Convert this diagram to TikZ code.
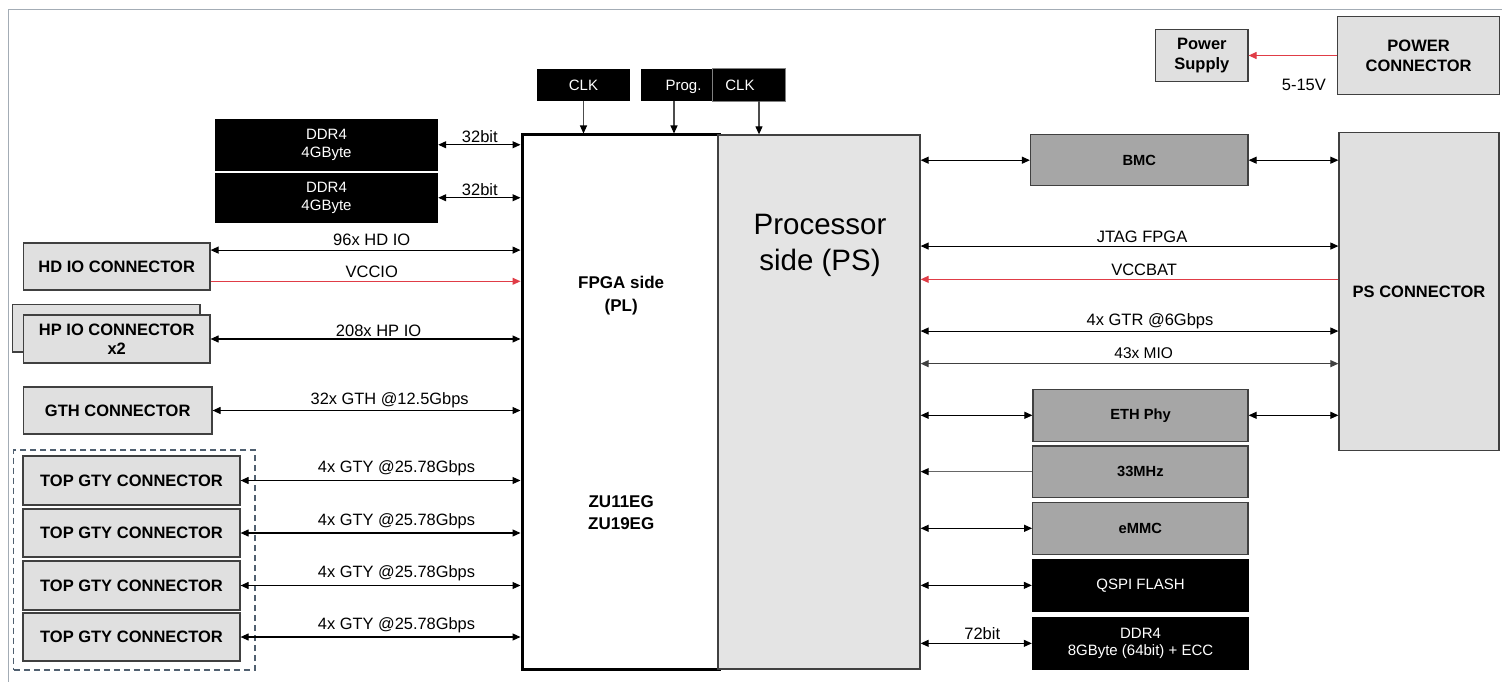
\documentclass[tikz,border=0pt]{standalone}
\usepackage{fontspec}
\setmainfont{Liberation Sans}
\usetikzlibrary{arrows.meta,calc}
\definecolor{boxgray}{HTML}{E0E0E0}
\definecolor{psgray}{HTML}{E4E4E4}
\definecolor{chipgray}{HTML}{A6A6A6}
\definecolor{edgec}{HTML}{404040}
\definecolor{framec}{HTML}{A3ACB5}
\definecolor{dashc}{HTML}{506070}
\definecolor{pwr}{HTML}{E03C46}
\begin{document}
\begin{tikzpicture}[x=1pt,y=-1pt,
 conn/.style={draw=edgec,fill=boxgray,line width=1.2pt,inner sep=0pt,align=center,font=\bfseries\fontsize{16.5}{19.5}\selectfont},
 chip/.style={draw=edgec,fill=chipgray,line width=1.2pt,inner sep=0pt,align=center,font=\bfseries\fontsize{14.7}{17}\selectfont},
 blk/.style={fill=black,text=white,inner sep=0pt,align=center,font=\fontsize{15}{17.5}\selectfont},
 lbl/.style={font=\fontsize{16.5}{19}\selectfont,anchor=base,inner sep=0pt},
 lbls/.style={font=\fontsize{16.4}{19}\selectfont,anchor=base,inner sep=0pt},
 bi/.style={line width=1.1pt,{Triangle[length=8pt,width=7pt]}-{Triangle[length=8pt,width=7pt]}},
 uni/.style={line width=1.1pt,-{Triangle[length=8pt,width=7pt]}},
 unik/.style={line width=1.1pt,-{Triangle[length=8pt,width=7pt,color=black]}},
]
\useasboundingbox (0,0) rectangle (1502,682);
\fill[white] (0,0) rectangle (1502,682);
\draw[framec,line width=1.5pt] (8.5,682) -- (8.5,9.5) -- (1502,9.5);

% central chip
\node[draw=black,fill=white,line width=3pt,minimum width=197pt,minimum height=534pt] (fpga) at (620.5,402) {};
\node[draw=edgec,fill=psgray,line width=1.3pt,minimum width=202pt,minimum height=534pt] (ps) at (819,402) {};
\node[anchor=north,inner sep=0pt,align=center,font=\bfseries\fontsize{17}{23}\selectfont] (fpgatxt) at (621.2,276) {FPGA side\\(PL)};
\node[anchor=north,inner sep=0pt,align=center,font=\bfseries\fontsize{17}{22}\selectfont] (zutxt) at (621.2,495) {ZU11EG\\ZU19EG};
\node[anchor=north,inner sep=0pt,align=center,font=\fontsize{29.5}{36.5}\selectfont] (pstxt) at (820,214) {Processor\\side (PS)};

% clocks
\node[blk,minimum width=93pt,minimum height=32pt] (clk1) at (583.5,85) {};
\node[blk,minimum width=71pt,minimum height=32pt] (progb) at (676.5,85) {};
\node[blk,draw=gray,line width=0.8pt,minimum width=73pt,minimum height=33pt] (clkb) at (748.5,84.5) {};
\node[anchor=base,inner sep=0pt,text=white,font=\fontsize{15}{17.5}\selectfont] (clk1txt) at (583.5,90.4) {CLK};
\node[anchor=base,inner sep=0pt,text=white,font=\fontsize{15}{17.5}\selectfont] (progtxt) at (683.5,90.4) {Prog.};
\node[anchor=base,inner sep=0pt,text=white,font=\fontsize{15}{17.5}\selectfont] (clk2txt) at (740,90.4) {CLK};
\coordinate (pa) at ([xshift=-2.5pt]progb.south);
\coordinate (ca) at ([xshift=10.5pt]clkb.south);
\draw[unik,draw=black!70] (clk1.south) -- (clk1.south |- fpga.north);
\draw[unik,draw=black!70] (pa) -- (pa |- fpga.north);
\draw[unik,draw=black!70] (ca) -- (ca |- ps.north);

% left side
\node[blk,minimum width=223pt,minimum height=51.5pt] (ddr1) at (326.5,144.75) {DDR4\\4GByte};
\node[blk,minimum width=223pt,minimum height=50.5pt] (ddr2) at (326.5,197.75) {DDR4\\4GByte};
\draw[bi] (ddr1.east) -- (ddr1.east -| fpga.west) node[lbl,pos=.506,yshift=2pt]{32bit};
\draw[bi] (ddr2.east) -- (ddr2.east -| fpga.west) node[lbl,pos=.506,yshift=2pt]{32bit};

\node[conn,minimum width=186.6pt,minimum height=47pt] (hdio) at (116.7,266.5) {HD IO CONNECTOR};
\coordinate (hdA) at ([yshift=-7.7pt]hdio.north east);
\coordinate (hdB) at ([yshift=9.3pt]hdio.south east);
\draw[bi] (hdA) -- (hdA -| fpga.west) node[lbl,pos=.52,yshift=5pt]{96x HD IO};
\draw[uni,draw=pwr] (hdB) -- (hdB -| fpga.west) node[lbl,pos=.52,yshift=4pt]{VCCIO};

\node[conn,minimum width=187.3pt,minimum height=47.3pt] (hpback) at (106.35,328.35) {};
\node[conn,minimum width=186.6pt,minimum height=48pt,font=\bfseries\fontsize{16.5}{19.3}\selectfont] (hpio) at (116.7,339) {HP IO CONNECTOR\\x2};
\draw[bi] (hpio.east) -- (hpio.east -| fpga.west) node[lbl,pos=.542,yshift=2.7pt]{208x HP IO};

\node[conn,minimum width=188.6pt,minimum height=47pt] (gth) at (117.7,410.5) {GTH CONNECTOR};
\draw[bi] (gth.east) -- (gth.east -| fpga.west) node[lbls,pos=.575,yshift=6pt]{32x GTH @12.5Gbps};

\node[draw=dashc,line width=1.2pt,dash pattern=on 6pt off 4pt,minimum width=241.2pt,minimum height=220pt] (gtygrp) at (134.4,560) {};
\node[conn,minimum width=217pt,minimum height=49pt] (gty1) at (131.5,480.5) {TOP GTY CONNECTOR};
\node[conn,minimum width=217pt,minimum height=48pt] (gty2) at (131.5,533) {TOP GTY CONNECTOR};
\node[conn,minimum width=217pt,minimum height=49pt] (gty3) at (131.5,585.5) {TOP GTY CONNECTOR};
\node[conn,minimum width=217pt,minimum height=48pt] (gty4) at (131.5,637) {TOP GTY CONNECTOR};
\foreach \g in {gty1,gty2,gty3,gty4}{
  \draw[bi] (\g.east) -- (\g.east -| fpga.west) node[lbls,pos=.557,yshift=8pt]{4x GTY @25.78Gbps};
}

% power
\node[conn,minimum width=92.3pt,minimum height=52.6pt,font=\bfseries\fontsize{16.5}{20}\selectfont] (pwrsup) at (1201.85,55.5) {Power\\Supply};
\node[conn,minimum width=162pt,minimum height=77.6pt,font=\bfseries\fontsize{16.5}{20}\selectfont] (pwrcon) at (1418.6,55.5) {POWER\\CONNECTOR};
\draw[uni,draw=pwr] (pwrcon.west) -- (pwrsup.east) node[lbl,pos=.375,yshift=-35pt]{5-15V};

% right side
\node[conn,minimum width=160pt,minimum height=318.4pt] (pscon) at (1419,291.5) {PS CONNECTOR};
\node[chip,minimum width=217.5pt,minimum height=51pt] (bmc) at (1139.25,160.2) {BMC};
\draw[bi] (ps.east |- bmc.west) -- (bmc.west);
\draw[bi] (bmc.east) -- (bmc.east -| pscon.west);

\coordinate (jt) at ([yshift=-111.7pt]ps.north east);
\coordinate (vb) at ([yshift=-145pt]ps.north east);
\coordinate (gt) at ([yshift=-196.7pt]ps.north east);
\coordinate (mi) at ([yshift=-229.3pt]ps.north east);
\draw[bi] (jt) -- (jt -| pscon.west) node[lbl,pos=.53,yshift=4pt]{JTAG FPGA};
\draw[uni,draw=pwr] (vb -| pscon.west) -- (vb) node[lbl,pos=.465,yshift=4pt]{VCCBAT};
\draw[bi] (gt) -- (gt -| pscon.west) node[lbl,pos=.549,yshift=5.7pt]{4x GTR @6Gbps};
\draw[bi,draw=black!75] (mi) -- (mi -| pscon.west) node[lbls,font=\fontsize{15.5}{18}\selectfont,pos=.534,yshift=5pt]{43x MIO};

\node[chip,minimum width=215pt,minimum height=52pt] (eth) at (1140.5,415.3) {ETH Phy};
\draw[bi] (ps.east |- eth.west) -- (eth.west);
\draw[bi] (eth.east) -- (eth.east -| pscon.west);

\node[chip,minimum width=215.3pt,minimum height=51.3pt] (osc) at (1140.35,471.65) {33MHz};
\draw[unik,draw=black!60] (osc.west) -- (osc.west -| ps.east);

\node[chip,minimum width=215.3pt,minimum height=52pt] (emmc) at (1140.35,528.3) {eMMC};
\draw[bi] (ps.east |- emmc.west) -- (emmc.west);

\node[blk,minimum width=217pt,minimum height=52.7pt] (qspi) at (1140.5,585.35) {QSPI FLASH};
\draw[bi] (ps.east |- qspi.west) -- (qspi.west);

\node[blk,minimum width=217pt,minimum height=53.3pt] (ddrps) at (1140.5,643.35) {DDR4\\8GByte (64bit) + ECC};
\draw[bi] (ps.east |- ddrps.west) -- (ddrps.west) node[lbl,pos=.554,yshift=4pt]{72bit};
\end{tikzpicture}
\end{document}
